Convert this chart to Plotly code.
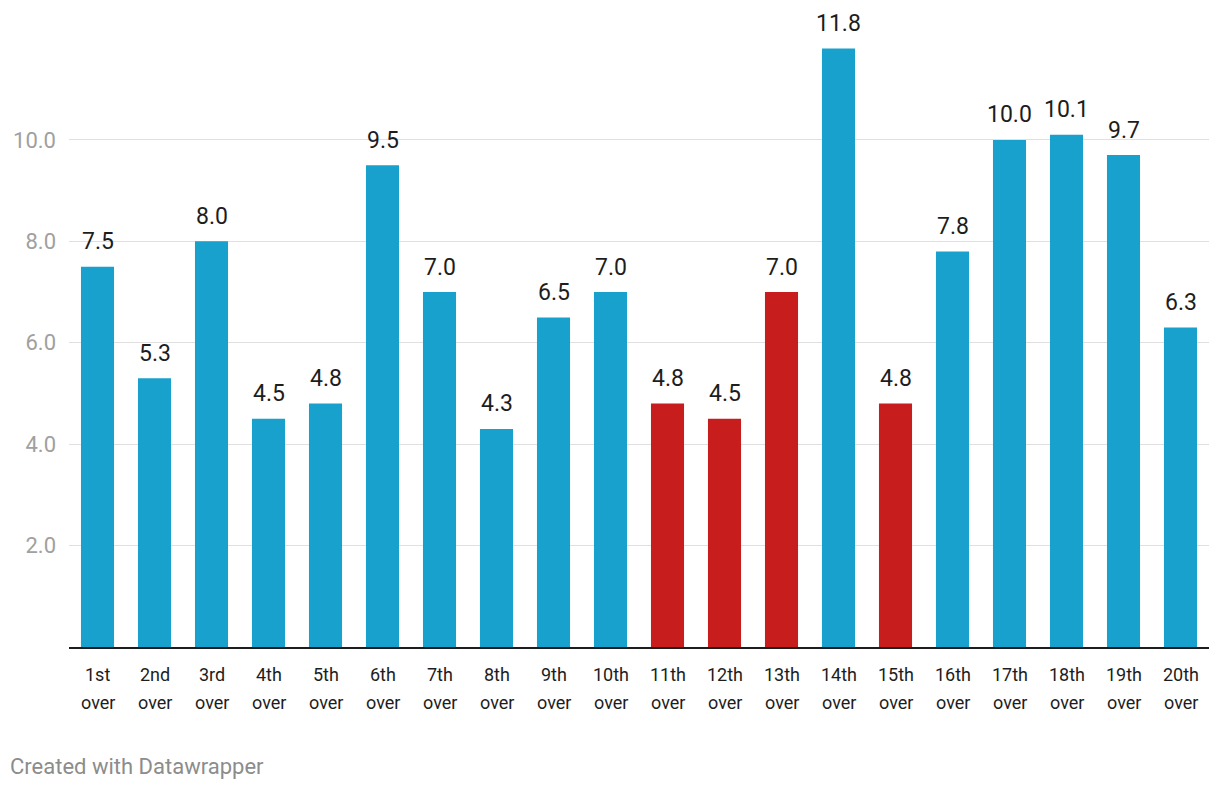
import plotly.graph_objects as go

ordinals = ["1st", "2nd", "3rd", "4th", "5th", "6th", "7th", "8th", "9th", "10th",
            "11th", "12th", "13th", "14th", "15th", "16th", "17th", "18th", "19th", "20th"]
suffix = "over"
categories = [f"{o} {suffix}" for o in ordinals]
values = [7.5, 5.3, 8.0, 4.5, 4.8, 9.5, 7.0, 4.3, 6.5, 7.0,
          4.8, 4.5, 7.0, 11.8, 4.8, 7.8, 10.0, 10.1, 9.7, 6.3]
highlight = [False]*10 + [True, True, True, False, True] + [False]*5
y_ticks = [2, 4, 6, 8, 10]

BLUE = "#18a1cd"
RED = "#c71e1d"
colors = [RED if h else BLUE for h in highlight]
FONT = "Roboto"

fig = go.Figure(go.Bar(
    x=categories, y=values,
    marker=dict(color=colors, line=dict(width=0)),
    hoverinfo="skip",
))

annotations = []
for c, v in zip(categories, values):
    annotations.append(dict(
        x=c, y=v, xref="x", yref="y", text=f"{v:.1f}", showarrow=False,
        xanchor="center", yanchor="middle", yshift=25,
        font=dict(family=FONT, size=23, color="#1d1d1d"),
    ))
for c, o in zip(categories, ordinals):
    annotations.append(dict(
        x=c, y=0, xref="x", yref="paper", text=o, showarrow=False,
        xanchor="center", yanchor="middle", yshift=-27,
        font=dict(family=FONT, size=18, color="#1d1d1d"),
    ))
    annotations.append(dict(
        x=c, y=0, xref="x", yref="paper", text=suffix, showarrow=False,
        xanchor="center", yanchor="middle", yshift=-55,
        font=dict(family=FONT, size=18, color="#1d1d1d"),
    ))
annotations.append(dict(
    text="Created with Datawrapper", xref="paper", yref="paper",
    x=-61/1140, y=-(766-647)/607, xanchor="left", yanchor="middle",
    showarrow=False, font=dict(family=FONT, size=22, color="#8c8c8c"),
))

fig.update_layout(
    width=1220, height=790,
    margin=dict(l=61, r=19, t=32, b=151, autoexpand=False),
    plot_bgcolor="white", paper_bgcolor="white",
    bargap=0.42,
    showlegend=False,
    font=dict(family=FONT, color="#1d1d1d"),
    xaxis=dict(
        showgrid=False, showline=True, linecolor="#1d1d1d", linewidth=2,
        ticks="", showticklabels=False, automargin=False,
    ),
    yaxis=dict(
        range=[0, 11.97], tickvals=y_ticks,
        ticktext=[f"{t:.1f}" for t in y_ticks],
        showgrid=True, gridcolor="#e0e0e0", gridwidth=1,
        zeroline=False, showline=False, ticks="", automargin=False,
        tickfont=dict(family=FONT, size=22, color="#a0a0a0"),
        ticklabelstandoff=12,
    ),
    annotations=annotations,
)

fig.write_html("out.html")
